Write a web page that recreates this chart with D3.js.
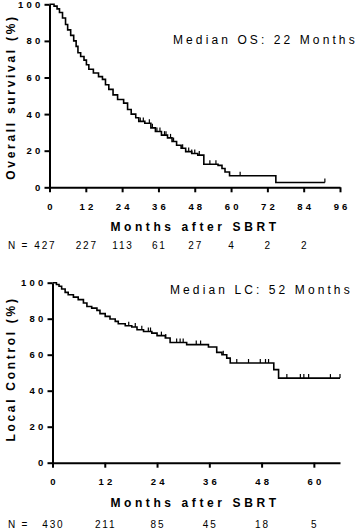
<!DOCTYPE html>
<html>
<head>
<meta charset="utf-8">
<script src="https://cdn.jsdelivr.net/npm/d3@7"></script>
<style>
  body { margin: 0; background: #fff; }
  svg { display: block; font-family: "Liberation Sans", Arial, sans-serif; }
  .axis path, .axis line { stroke: #000; stroke-width: 2px; }
  .axis text { font-size: 9.5px; font-weight: bold; letter-spacing: 3.2px; fill: #000; }
  .curve { fill: none; stroke: #000; stroke-width: 1.6px; }
  .censor { stroke: #000; stroke-width: 1.2px; }
  .atitle { font-size: 12px; font-weight: bold; fill: #000; }
  .median { font-size: 12px; fill: #000; letter-spacing: 3.1px; }
  .nrisk { font-size: 10px; fill: #000; letter-spacing: 1.8px; }
</style>
</head>
<body>
<svg id="draw" width="358" height="529"></svg>
<script>
// overall survival (top panel)
var osTimes = [0,1.5,2.5,3.3,4.3,5.3,6,7,8,8.8,9.4,10.3,11.4,12.2,13,14.5,16.2,17.5,18.5,19.6,21,22.5,24.5,25.8,27,28.5,29.5,31.5,33.5,35,37,39,40.5,42,43.5,45,47,49,51,55.7,57,58,59.5,74.8];
var osSurv = [100,99,97.5,95.5,92.5,89,86,83,80,77,73.5,71.5,69.5,67,64.5,62.5,60.5,59,56,53.5,50.5,48,46,42.5,40,38,36,35,32.5,30.5,28.5,27,25,23,21.3,19.5,18.5,17.6,12.6,12,10.3,8.4,6.3,2.6];
var osEnd = 91;
var osCensor = [30,31,33,34,35.5,36.5,38,38.5,40,41,44,46,47,48,49.5,53,55,63,91];
var osTicks = [0,12,24,36,48,60,72,84,96];
var osN = ["427","227","113","61","27","4","2","2"];

// local control (bottom panel)
var lcTimes = [0,0.9,1.5,2.1,2.9,3.6,4.8,5.9,7.1,7.9,9,10.2,10.9,12.1,13.2,14.4,15.1,16.7,18.2,19.4,20.9,22.8,24,25.9,27,30.8,35.8,37.7,38.9,40,40.8,50.8,51.9];
var lcSurv = [100,99,98,96.5,94.6,93.3,92,90.6,88.7,86.8,85.9,84.6,82.8,81.3,79.8,78.5,77.2,76.1,75.4,73.9,72.9,72,70.6,69.3,66.8,65.6,64.3,61.3,60,58.1,55.4,51.7,47];
var lcEnd = 66;
var lcCensor = [17.5,19,20.5,22,22.5,25,26,28.5,29.3,30,33,34,39.2,42.3,45,47.7,48.9,49.6,53.8,56.9,57.7,58.8,63.8,66];
var lcTicks = [0,12,24,36,48,60];
var lcN = ["430","211","85","45","18","5"];

var yTicks = [0,20,40,60,80,100];

var svg = d3.select("#draw");

function drawPanel(opt) {
  var x = d3.scaleLinear().domain(opt.xDomain).range([opt.left, 340]);
  var y = d3.scaleLinear().domain([0, 100]).range([opt.bottom, opt.top]);

  var g = svg.append("g");

  // y axis
  var ya = g.append("g")
    .attr("class", "axis")
    .attr("transform", "translate(" + opt.left + ",0)")
    .call(d3.axisLeft(y).tickValues(yTicks).tickSize(5).tickSizeOuter(0));
  ya.selectAll("text").attr("dx", "0.2em");

  // x axis
  var xa = g.append("g")
    .attr("class", "axis")
    .attr("transform", "translate(0," + opt.bottom + ")")
    .call(d3.axisBottom(x).tickValues(opt.ticks).tickSize(5).tickSizeOuter(0));
  xa.selectAll("text").attr("dy", "1.5em").attr("dx", 1.6);

  // step curve
  var pts = opt.times.map(function(t, i) { return [t, opt.surv[i]]; });
  pts.push([opt.end, opt.surv[opt.surv.length - 1]]);
  var line = d3.line()
    .x(function(d) { return x(d[0]); })
    .y(function(d) { return y(d[1]); })
    .curve(d3.curveStepAfter);
  g.append("path").datum(pts).attr("class", "curve").attr("d", line);

  // censor marks
  function survAt(t) {
    var v = opt.surv[0];
    for (var i = 0; i < opt.times.length; i++) {
      if (opt.times[i] <= t) v = opt.surv[i];
    }
    return v;
  }
  g.selectAll(".censor")
    .data(opt.censor)
    .enter().append("line")
    .attr("class", "censor")
    .attr("x1", function(d) { return x(d); })
    .attr("x2", function(d) { return x(d); })
    .attr("y1", function(d) { return y(survAt(d)); })
    .attr("y2", function(d) { return y(survAt(d)) - 4; });

  // y title
  g.append("text")
    .attr("class", "atitle")
    .attr("transform", "translate(15," + opt.yTitleY + ") rotate(-90)")
    .attr("text-anchor", "middle")
    .style("letter-spacing", opt.yTitleLs + "px")
    .text(opt.yTitle);

  // x title
  g.append("text")
    .attr("class", "atitle")
    .attr("x", 195)
    .attr("y", opt.bottom + 44)
    .attr("text-anchor", "middle")
    .style("letter-spacing", "3.6px")
    .text("Months after SBRT");

  // median label
  g.append("text")
    .attr("class", "median")
    .attr("x", opt.medX)
    .attr("y", opt.medY)
    .text(opt.median);

  // number at risk
  g.selectAll(".nrisk")
    .data(opt.nrisk)
    .enter().append("text")
    .attr("class", "nrisk")
    .attr("x", function(d, i) { return x(opt.ticks[i]) + 0.9 + (i === 0 ? opt.firstShift : 0); })
    .attr("y", opt.bottom + opt.nOffset)
    .attr("text-anchor", "middle")
    .text(function(d) { return d; });
  g.append("text")
    .attr("class", "nrisk")
    .attr("x", 8)
    .attr("y", opt.bottom + opt.nOffset)
    .text("N =");
}

drawPanel({
  left: 49.5, top: 4.3, bottom: 187.3, xDomain: [0, 96], ticks: osTicks,
  times: osTimes, surv: osSurv, end: osEnd, censor: osCensor, nrisk: osN,
  firstShift: -5, nOffset: 61.5,
  yTitle: "Overall survival (%)", yTitleY: 97, yTitleLs: 2.7,
  median: "Median OS: 22 Months", medX: 173, medY: 44
});

drawPanel({
  left: 52.5, top: 282.7, bottom: 462.7, xDomain: [0, 66], ticks: lcTicks,
  times: lcTimes, surv: lcSurv, end: lcEnd, censor: lcCensor, nrisk: lcN,
  firstShift: 0, nOffset: 65.5,
  yTitle: "Local Control (%)", yTitleY: 369, yTitleLs: 2.7,
  median: "Median LC: 52 Months", medX: 170, medY: 294
});
</script>
</body>
</html>
